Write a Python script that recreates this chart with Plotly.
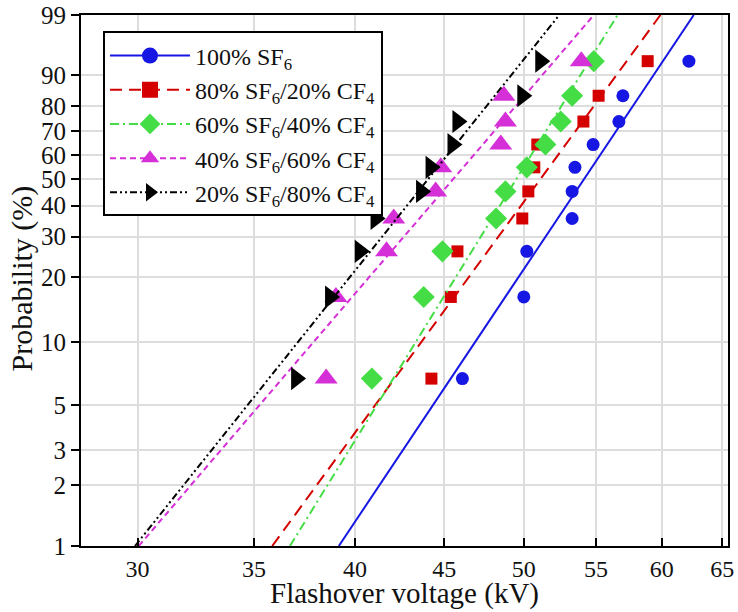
import numpy as np
import plotly.graph_objects as go

# Median-rank probabilities (%) of the ten flashover tests
probabilities = [6.7, 16.3, 26.0, 35.6, 45.2, 54.8, 64.4, 74.0, 83.7, 93.3]

# Measured flashover voltages (kV), one list per gas mixture
v_sf6_100 = [46.1, 50.0, 50.2, 53.3, 53.3, 53.5, 54.8, 56.7, 57.0, 62.2]
v_sf6_80 = [44.25, 45.4, 45.8, 49.9, 50.3, 50.7, 50.9, 54.1, 55.2, 58.9]
v_sf6_60 = [40.9, 43.8, 44.9, 48.2, 48.8, 50.2, 51.45, 52.5, 53.3, 54.85]
v_sf6_40 = [38.5, 39.0, 41.7, 42.1, 44.5, 44.8, 48.5, 48.8, 48.7, 53.95]
v_sf6_20 = [37.0, 38.7, 40.25, 41.1, 43.65, 44.2, 45.5, 45.8, 49.9, 51.1]

# Weibull fit lines: voltage (kV) at 1 % and at 99 % probability
fit_sf6_100 = [39.15, 62.6]
fit_sf6_80 = [35.85, 59.9]
fit_sf6_60 = [36.7, 56.6]
fit_sf6_40 = [30.05, 54.85]
fit_sf6_20 = [29.9, 52.4]

names = [
    "100% SF<sub>6</sub>",
    "80% SF<sub>6</sub>/20% CF<sub>4</sub>",
    "60% SF<sub>6</sub>/40% CF<sub>4</sub>",
    "40% SF<sub>6</sub>/60% CF<sub>4</sub>",
    "20% SF<sub>6</sub>/80% CF<sub>4</sub>",
]

prob_ticks = [1, 2, 3, 5, 10, 20, 30, 40, 50, 60, 70, 80, 90, 99]
volt_ticks = [30, 35, 40, 45, 50, 55, 60, 65]


def weibull_y(p):
    """Weibull probability-paper ordinate for a probability in percent."""
    p = np.asarray(p, dtype=float) / 100.0
    return np.log(-np.log(1.0 - p))


styles = [
    dict(color="#1717e3", dash="solid", symbol="circle", size=13),
    dict(color="#d40000", dash="12px,7px", symbol="square", size=12),
    dict(color="#45dd45", dash="9px,4px,2px,4px", symbol="diamond", size=17),
    dict(color="#d52fd8", dash="6px,4px", symbol="triangle-up", size=20),
    dict(color="#000000", dash="7px,3px,2px,3px,2px,3px", symbol="triangle-right", size=20),
]

voltages = [v_sf6_100, v_sf6_80, v_sf6_60, v_sf6_40, v_sf6_20]
fits = [fit_sf6_100, fit_sf6_80, fit_sf6_60, fit_sf6_40, fit_sf6_20]

fig = go.Figure()

y_lo, y_hi = weibull_y([1, 99])

for name, st, volts, fit in zip(names, styles, voltages, fits):
    # fitted Weibull distribution (straight on probability paper)
    fig.add_trace(go.Scatter(
        x=fit, y=[y_lo, y_hi], mode="lines",
        line=dict(color=st["color"], width=2, dash=st["dash"]),
        showlegend=False, hoverinfo="skip",
    ))
    # measured points
    fig.add_trace(go.Scatter(
        x=volts, y=weibull_y(probabilities), mode="markers",
        marker=dict(color=st["color"], symbol=st["symbol"], size=st["size"],
                    line=dict(width=0)),
        showlegend=False,
    ))
    # legend entry combining line style and marker
    fig.add_trace(go.Scatter(
        x=[None], y=[None], mode="lines+markers", name=name,
        line=dict(color=st["color"], width=2, dash=st["dash"]),
        marker=dict(color=st["color"], symbol=st["symbol"], size=16,
                    line=dict(width=0)),
    ))

font_family = "Liberation Serif, DejaVu Serif, serif"
text_color = "#111111"

fig.update_layout(
    width=738, height=612,
    margin=dict(l=81, r=10, t=15, b=66),
    paper_bgcolor="white", plot_bgcolor="white",
    font=dict(family=font_family, size=25, color=text_color),
    legend=dict(
        x=0.034, y=0.969, xanchor="left", yanchor="top",
        bgcolor="white", bordercolor="black", borderwidth=2,
        font=dict(family=font_family, size=24, color=text_color),
        itemwidth=80, tracegroupgap=0,
    ),
    showlegend=True,
    annotations=[
        dict(text="Flashover voltage (kV)", xref="paper", yref="paper",
             x=0.5, y=0, xanchor="center", yanchor="top", yshift=-30,
             borderpad=0,
             showarrow=False, font=dict(size=29, color=text_color)),
        dict(text="Probability (%)", xref="paper", yref="paper",
             x=0, y=0.5, xanchor="center", yanchor="middle", xshift=-60,
             yshift=2, textangle=-90,
             showarrow=False, font=dict(size=30, color=text_color)),
    ],
)

fig.update_xaxes(
    type="log", automargin=False,
    range=[np.log10(27.84), np.log10(65.5)],
    tickvals=volt_ticks,
    ticktext=[str(t) for t in volt_ticks],
    ticks="inside", ticklen=8, tickwidth=2, tickcolor="black",
    showgrid=True, gridcolor="#dddddd", gridwidth=2,
    showline=True, linecolor="black", linewidth=2, mirror=True,
    zeroline=False,
    tickfont=dict(size=24),
)

fig.update_yaxes(
    automargin=False,
    range=[float(y_lo), float(y_hi)],
    tickvals=weibull_y(prob_ticks),
    ticktext=[str(t) for t in prob_ticks],
    ticks="outside", ticklen=8, tickwidth=2, tickcolor="black",
    showgrid=True, gridcolor="#dddddd", gridwidth=2,
    showline=True, linecolor="black", linewidth=2, mirror=True,
    zeroline=False,
    tickfont=dict(size=25),
)

fig.write_html("out.html")
